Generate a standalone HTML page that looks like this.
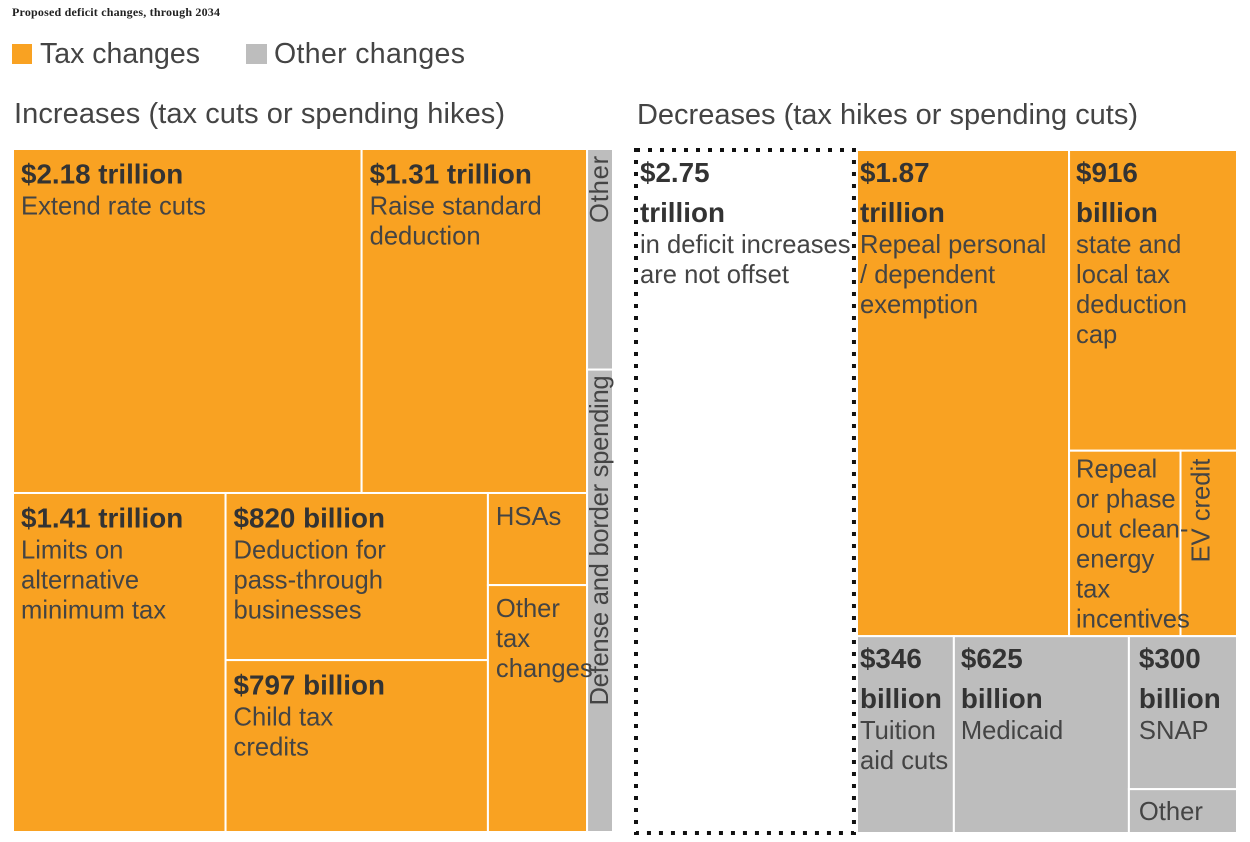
<!DOCTYPE html>
<html lang="en">
<head>
<meta charset="utf-8">
<title>Proposed deficit changes, through 2034</title>
<style>
  html, body { margin: 0; padding: 0; background: #fff; width: 1250px; height: 842px; overflow: hidden; }
  svg { display: block; }
  text { font-family: "Liberation Sans", sans-serif; fill: #444; }
  .title { font-family: "Liberation Serif", serif; font-weight: 700; font-size: 12px; fill: #222; }
  .legend-text { font-size: 28.5px; }
  .heading { font-size: 29px; }
  .amount { font-size: 27.8px; font-weight: 700; fill: #333; }
  .caption { font-size: 25.6px; }
</style>
</head>
<body>
<svg id="chart" xmlns="http://www.w3.org/2000/svg" width="1250" height="842" viewBox="0 0 1250 842">
  <text class="title" x="12" y="16" textLength="208">Proposed deficit changes, through 2034</text>
  <g>
    <g>
      <rect x="12" y="44" width="20" height="20" fill="#f9a222"></rect>
      <text class="legend-text" x="40" y="63" textLength="160">Tax changes</text>
    </g>
    <g>
      <rect x="246" y="44" width="21" height="20" fill="#bdbdbd"></rect>
      <text class="legend-text" x="274" y="63" textLength="191">Other changes</text>
    </g>
  </g>
  <text class="heading" x="14" y="123" textLength="491">Increases (tax cuts or spending hikes)</text>
  <text class="heading" x="637" y="124" textLength="501">Decreases (tax hikes or spending cuts)</text>
  <g id="increases"></g>
  <g id="decreases"></g>
</svg>
<script>
const increaseValues = [2180, 1410, 1310, 797, 820, 166, 445, 104, 218];
const increaseKinds = ['tax', 'tax', 'tax', 'tax', 'tax', 'tax', 'tax', 'other', 'other'];
const increaseAmounts = [['$2.18 trillion'], ['$1.31 trillion'], ['$1.41 trillion'], ['$820 billion'], ['$797 billion'], [], [], [], []];
const increaseCaptions = [
  ['Extend rate cuts'],
  ['Raise standard', 'deduction'],
  ['Limits on', 'alternative', 'minimum tax'],
  ['Deduction for', 'pass-through', 'businesses'],
  ['Child tax', 'credits'],
  ['HSAs'],
  ['Other', 'tax', 'changes'],
  ['Other'],
  ['Defense and border spending']
];

const decreaseValues = [2750, 1870, 916, 375, 190, 346, 625, 300, 86];
const decreaseKinds = ['offset-gap', 'tax', 'tax', 'tax', 'tax', 'other', 'other', 'other', 'other'];
const decreaseAmounts = [['$2.75', 'trillion'], ['$1.87', 'trillion'], ['$916', 'billion'], [], [], ['$346', 'billion'], ['$625', 'billion'], ['$300', 'billion'], []];
const decreaseCaptions = [
  ['in deficit increases', 'are not offset'],
  ['Repeal personal', '/ dependent', 'exemption'],
  ['state and', 'local tax', 'deduction', 'cap'],
  ['Repeal', 'or phase', 'out clean-', 'energy', 'tax', 'incentives'],
  ['EV credit'],
  ['Tuition', 'aid cuts'],
  ['Medicaid'],
  ['SNAP'],
  ['Other']
];

// Nesting of the treemap: 'h' splits side by side, 'v' stacks; numbers index the arrays above.
const increaseTree = ['h', ['v', ['h', 0, 1], ['h', 2, ['v', 3, 4], ['v', 5, 6]]], ['v', 7, 8]];
const decreaseTree = ['h', 0, ['v', ['h', 1, ['v', 2, ['h', 3, 4]]], ['h', 5, 6, ['v', 7, 8]]]];

const SVG_NS = 'http://www.w3.org/2000/svg';
const FILLS = { tax: '#f9a222', other: '#bdbdbd' };

function nodeTotal(node, values) {
  if (typeof node === 'number') return values[node];
  return node.slice(1).reduce(function (sum, child) { return sum + nodeTotal(child, values); }, 0);
}

function layoutTree(node, values, box, out) {
  if (typeof node === 'number') { out[node] = box; return; }
  const total = nodeTotal(node, values);
  let offset = 0;
  node.slice(1).forEach(function (child) {
    const share = nodeTotal(child, values) / total;
    const childBox = node[0] === 'h'
      ? { x: box.x + offset * box.w, y: box.y, w: share * box.w, h: box.h }
      : { x: box.x, y: box.y + offset * box.h, w: box.w, h: share * box.h };
    layoutTree(child, values, childBox, out);
    offset += share;
  });
}

function slug(text) {
  return text.toLowerCase().replace(/[^a-z0-9]+/g, '-').replace(/^-|-$/g, '');
}

function addText(parent, cls, content, x, y, rotate, name, spacing) {
  const t = document.createElementNS(SVG_NS, 'text');
  t.setAttribute('class', cls);
  
  
  if (rotate) {
    t.setAttribute('transform', 'translate(' + x + ',' + y + ') rotate(-90)');
    t.setAttribute('text-anchor', 'end');
  } else {
    t.setAttribute('x', x);
    t.setAttribute('y', y);
  }
  if (spacing) t.setAttribute('letter-spacing', spacing);
  t.textContent = content;
  parent.appendChild(t);
}

function drawTreemap(groupId, tree, values, kinds, amounts, captions, box, opts) {
  const group = document.getElementById(groupId);
  const boxes = [];
  layoutTree(tree, values, box, boxes);

  boxes.forEach(function (b, i) {
    const rect = document.createElementNS(SVG_NS, 'rect');
    const cellName = 'cell-' + slug(captions[i].join(' '));
    
    
    if (kinds[i] === 'offset-gap') {
      rect.setAttribute('x', b.x + 1);
      rect.setAttribute('y', b.y);
      rect.setAttribute('width', b.w - 4);
      rect.setAttribute('height', b.h);
      rect.setAttribute('fill', '#fff');
      rect.setAttribute('stroke', '#111');
      rect.setAttribute('stroke-width', '4');
      rect.setAttribute('stroke-dasharray', '4 8');
    } else {
      rect.setAttribute('x', b.x);
      rect.setAttribute('y', b.y);
      rect.setAttribute('width', b.w);
      rect.setAttribute('height', b.h);
      rect.setAttribute('fill', FILLS[kinds[i]]);
      rect.setAttribute('stroke', '#fff');
      rect.setAttribute('stroke-width', '2');
    }
    group.appendChild(rect);
  });

  boxes.forEach(function (b, i) {
    const base = slug(captions[i].join(' '));
    if (opts.vertical[i] !== undefined) {
      const baseline = b.x + Math.min(b.w / 2 + 8, 29);
      addText(group, 'caption', captions[i][0], baseline, b.y + opts.vertical[i].top, true, 'label-' + base, opts.vertical[i].spacing);
      return;
    }
    const pad = opts.pads[i] === undefined ? opts.pad : opts.pads[i];
    const x = b.x + pad;
    let y = b.y;
    amounts[i].forEach(function (line, k) {
      y += k === 0 ? opts.amountTop : 40;
      addText(group, 'amount', line, x, y, false, 'amount-' + base + '-' + k);
    });
    captions[i].forEach(function (line, k) {
      if (k === 0) {
        y += amounts[i].length ? 31 : (opts.plainTops[i] === undefined ? opts.plainTop : opts.plainTops[i]);
      } else {
        y += 30;
      }
      addText(group, 'caption', line, x, y, false, 'caption-' + base + '-' + k);
    });
  });
}

drawTreemap('increases', increaseTree, increaseValues, increaseKinds, increaseAmounts, increaseCaptions,
  { x: 13, y: 149, w: 600, h: 683 },
  { pad: 8, pads: {}, amountTop: 34.6, plainTop: 32, plainTops: {},
    vertical: { 7: { top: 6, spacing: 0.8 }, 8: { top: 6, spacing: -0.27 } } });
drawTreemap('decreases', decreaseTree, decreaseValues, decreaseKinds, decreaseAmounts, decreaseCaptions,
  { x: 635, y: 150, w: 602, h: 683 },
  { pad: 7, pads: { 0: 5, 1: 3, 5: 3, 7: 10, 8: 10 }, amountTop: 32, plainTop: 31, plainTops: { 3: 27 },
    vertical: { 4: { top: 8, spacing: 0 } } });
</script>
</body>
</html>
